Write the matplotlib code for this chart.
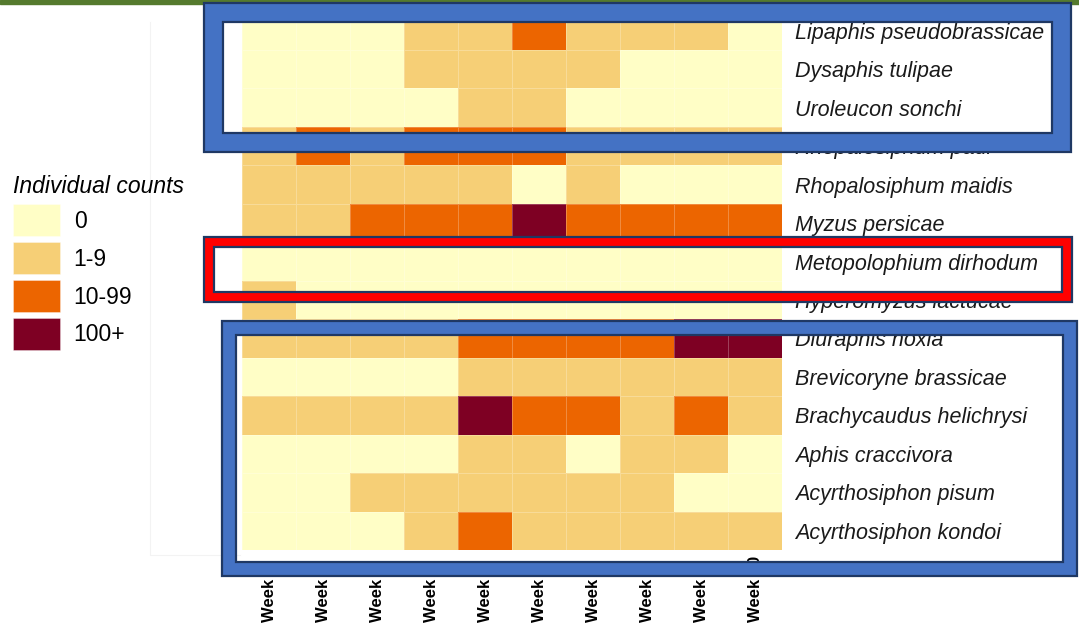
import matplotlib
matplotlib.use("Agg")
import matplotlib.pyplot as plt
import numpy as np
from matplotlib.colors import ListedColormap, BoundaryNorm
from matplotlib.patches import Patch, Rectangle
from matplotlib.lines import Line2D

plt.rcParams['font.family'] = ['Liberation Sans', 'DejaVu Sans']

# data: count class per week (0 = none, 1 = 1-9, 2 = 10-99, 3 = 100+)
species = ["Lipaphis pseudobrassicae", "Dysaphis tulipae", "Uroleucon sonchi",
           "Rhopalosiphum padi", "Rhopalosiphum maidis", "Myzus persicae",
           "Metopolophium dirhodum", "Hyperomyzus lactucae", "Diuraphis noxia",
           "Brevicoryne brassicae", "Brachycaudus helichrysi", "Aphis craccivora",
           "Acyrthosiphon pisum", "Acyrthosiphon kondoi"]
weeks = ["Week %d" % i for i in range(1, 11)]
count_classes = ["0", "1-9", "10-99", "100+"]
class_colors = ["#FFFEC6", "#F6CF76", "#EC6500", "#7E0023"]

lipaphis_pseudobrassicae = [0, 0, 0, 1, 1, 2, 1, 1, 1, 0]
dysaphis_tulipae = [0, 0, 0, 1, 1, 1, 1, 0, 0, 0]
uroleucon_sonchi = [0, 0, 0, 0, 1, 1, 0, 0, 0, 0]
rhopalosiphum_padi = [1, 2, 1, 2, 2, 2, 1, 1, 1, 1]
rhopalosiphum_maidis = [1, 1, 1, 1, 1, 0, 1, 0, 0, 0]
myzus_persicae = [1, 1, 2, 2, 2, 3, 2, 2, 2, 2]
metopolophium_dirhodum = [0, 0, 0, 0, 0, 0, 0, 0, 0, 0]
hyperomyzus_lactucae = [1, 0, 0, 0, 0, 0, 0, 0, 0, 0]
diuraphis_noxia = [1, 1, 1, 1, 2, 2, 2, 2, 3, 3]
brevicoryne_brassicae = [0, 0, 0, 0, 1, 1, 1, 1, 1, 1]
brachycaudus_helichrysi = [1, 1, 1, 1, 3, 2, 2, 1, 2, 1]
aphis_craccivora = [0, 0, 0, 0, 1, 1, 0, 1, 1, 0]
acyrthosiphon_pisum = [0, 0, 1, 1, 1, 1, 1, 1, 0, 0]
acyrthosiphon_kondoi = [0, 0, 0, 1, 2, 1, 1, 1, 1, 1]

rows = [lipaphis_pseudobrassicae, dysaphis_tulipae, uroleucon_sonchi,
        rhopalosiphum_padi, rhopalosiphum_maidis, myzus_persicae,
        metopolophium_dirhodum, hyperomyzus_lactucae, diuraphis_noxia,
        brevicoryne_brassicae, brachycaudus_helichrysi, aphis_craccivora,
        acyrthosiphon_pisum, acyrthosiphon_kondoi]

W, H = 1079, 625
NAVY = "#1F3864"
BLUE = "#4472C4"
RED = "#FF0000"


def fx(px):
    return px / W


def fy(py):
    return 1 - py / H


def frame_box(fig, x0, y0, x1, y1, thick, color):
    # thick coloured frame with a navy outline, pixel coords from top-left
    h = thick / 2.0
    parts = [((x0 + h, y0 + h, x1 - h, y1 - h), thick * 0.72, color),
             ((x0, y0, x1, y1), 1.6, NAVY),
             ((x0 + thick, y0 + thick, x1 - thick, y1 - thick), 1.6, NAVY)]
    for (a, b, c, d), lw, col in parts:
        fig.add_artist(Rectangle((fx(a), fy(d)), fx(c - a), (d - b) / H,
                                 transform=fig.transFigure, fill=False,
                                 edgecolor=col, linewidth=lw,
                                 joinstyle='miter', zorder=10))


def main():
    data = np.array(rows)
    cmap = ListedColormap(class_colors)
    norm = BoundaryNorm(np.arange(-0.5, 4.5, 1), cmap.N)

    fig = plt.figure(figsize=(W / 100, H / 100), dpi=100)

    # green slide bar and faint frame of the pasted plot
    fig.add_artist(Rectangle((0, fy(4)), 1, 4 / H, transform=fig.transFigure,
                             color="#557A2E", zorder=1))
    fig.add_artist(Line2D([fx(150), fx(150), fx(240)], [fy(22), fy(555), fy(555)],
                          transform=fig.transFigure, color="#F3F3F3", lw=0.8))

    ax = fig.add_axes([fx(242), fy(550), fx(540), 538.5 / H])
    ax.pcolormesh(np.arange(len(weeks) + 1), np.arange(len(species) + 1), data,
                  cmap=cmap, norm=norm, edgecolors=(1, 1, 1, 0.25), linewidth=0.5)
    ax.set_xlim(0, len(weeks))
    ax.set_ylim(len(species), 0)
    ax.set_yticks(np.arange(len(species)) + 0.5)
    ax.set_yticklabels(species, fontsize=15.5, style='italic', color="#1A1A1A")
    ax.set_xticks(np.arange(len(weeks)) + 0.5)
    # labels start at a common baseline far below the tiles
    ax.set_xticklabels(weeks, rotation=90, fontsize=12, fontweight='bold',
                       va='bottom', ha='center')
    ax.yaxis.tick_right()
    ax.tick_params(axis='y', length=0, pad=9.5)
    ax.tick_params(axis='x', length=0, pad=51.5)
    for s in ax.spines.values():
        s.set_visible(False)

    handles = [Patch(facecolor=c, edgecolor=(1, 1, 1, 0.4), linewidth=0.6, label=l)
               for c, l in zip(class_colors, count_classes)]
    fig.legend(handles=handles, title="Individual counts", loc="upper left",
               bbox_to_anchor=(fx(13), fy(175)), frameon=False, fontsize=16.5,
               title_fontproperties={'style': 'italic', 'size': 16.5},
               alignment='left', handlelength=2.05, handleheight=1.74,
               labelspacing=0.28, handletextpad=0.6, borderpad=0, borderaxespad=0)

    # highlight boxes laid over the chart
    frame_box(fig, 204, 3, 1071, 152, 19, BLUE)
    frame_box(fig, 204, 237, 1072, 302, 10, RED)
    frame_box(fig, 222, 321, 1077, 576, 14, BLUE)

    fig.savefig("out.png", dpi=100)


if __name__ == "__main__":
    main()
